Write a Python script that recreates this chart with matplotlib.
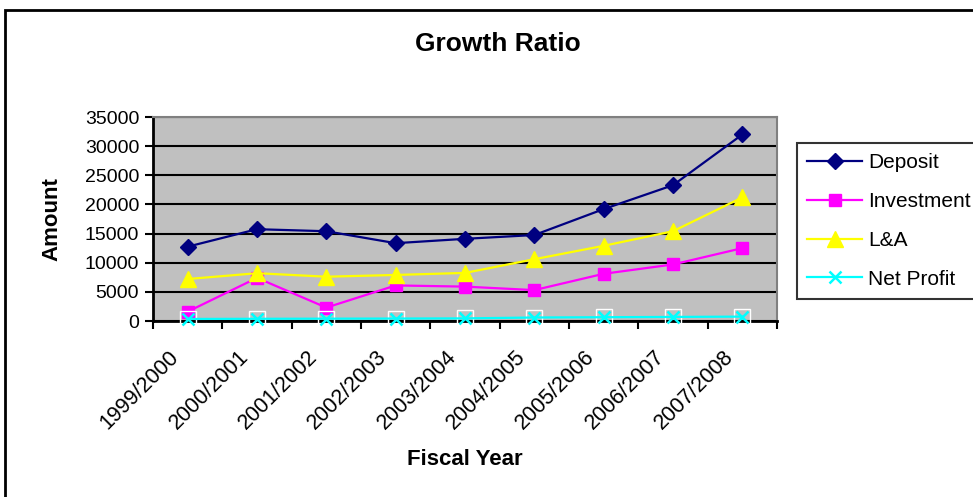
import matplotlib.pyplot as plt
from matplotlib.patches import Rectangle
from matplotlib.transforms import ScaledTranslation

plt.rcParams["font.family"] = ["Liberation Sans", "DejaVu Sans"]

years = ["1999/2000", "2000/2001", "2001/2002", "2002/2003", "2003/2004",
         "2004/2005", "2005/2006", "2006/2007", "2007/2008"]
deposit = [12750, 15750, 15400, 13350, 14100, 14750, 19200, 23300, 32000]
investment = [1600, 7400, 2300, 6100, 5900, 5300, 8100, 9700, 12500]
loans_adv = [7200, 8200, 7600, 7900, 8250, 10600, 12900, 15400, 21200]
net_profit = [350, 380, 400, 420, 450, 600, 650, 700, 750]

fig = plt.figure(figsize=(9.73, 4.97), dpi=100)
ax = fig.add_axes([153/973, 1 - 321/497, 624/973, 204/497])
ax.set_facecolor("#C0C0C0")

x = list(range(len(years)))
ax.plot(x, deposit, color="#000080", lw=1.6, marker="D", ms=8.5,
        label="Deposit", zorder=4)
ax.plot(x, investment, color="#FF00FF", lw=1.6, marker="s", ms=8.5,
        label="Investment", zorder=4)
ax.plot(x, loans_adv, color="#FFFF00", lw=1.6, marker="^", ms=11,
        label="L&A", zorder=4)
# white box behind the net profit crosses
ax.plot(x, net_profit, ls="none", marker="s", ms=11, mfc="none",
        mec="white", mew=1, zorder=5, clip_on=False)
ax.plot(x, net_profit, color="#00FFFF", lw=1.6, marker="x", ms=9, mew=1.8,
        label="Net Profit", zorder=6, clip_on=False)

ax.set_xlim(-0.5, len(years) - 0.5)
ax.set_ylim(0, 35000)
ax.set_yticks(range(0, 35001, 5000))
ax.grid(axis="y", color="black", lw=1.5)
ax.set_axisbelow(True)

# category ticks sit between the years, labels are slanted under each year
ax.set_xticks([i - 0.5 for i in range(len(years) + 1)])
ax.tick_params(axis="x", length=6, width=1.5, direction="out", labelbottom=False)
ax.tick_params(axis="y", length=6, width=1.5, direction="out", labelsize=14, pad=4)
lbl_trans = ax.get_xaxis_transform() + ScaledTranslation(-0.12, -0.33, fig.dpi_scale_trans)
for i, yr in zip(x, years):
    ax.text(i, 0, yr, transform=lbl_trans, rotation=45, ha="right",
            va="center", rotation_mode="anchor", fontsize=15.5)

for side in ["left", "bottom"]:
    ax.spines[side].set_color("black")
    ax.spines[side].set_linewidth(2)
for side in ["top", "right"]:
    ax.spines[side].set_color("#808080")
    ax.spines[side].set_linewidth(1.5)

ax.set_ylabel("Amount", fontsize=16, fontweight="bold", va="center")
ax.yaxis.set_label_coords(-0.162, 0.5)
ax.set_xlabel("Fiscal Year", fontsize=16, fontweight="bold", va="center")
ax.xaxis.set_label_coords(0.5, -0.681)
fig.text(498/973, 1 - 44/497, "Growth Ratio", fontsize=19, fontweight="bold",
         ha="center", va="center")

leg = ax.legend(loc="upper left", bbox_to_anchor=(797/973, 1 - 143/497),
                bbox_transform=fig.transFigure, fontsize=15, frameon=True,
                fancybox=False, handlelength=2.6, handletextpad=0.3,
                labelspacing=0.95, borderpad=0.5, borderaxespad=0)
leg.get_frame().set_edgecolor("black")
leg.get_frame().set_linewidth(1.5)

# chart border
fig.patches.append(Rectangle((5/973, -0.1), 1.2, 1.1 - 10/497,
                             transform=fig.transFigure, fill=False,
                             edgecolor="black", lw=2))

fig.savefig("out.png", dpi=100)
